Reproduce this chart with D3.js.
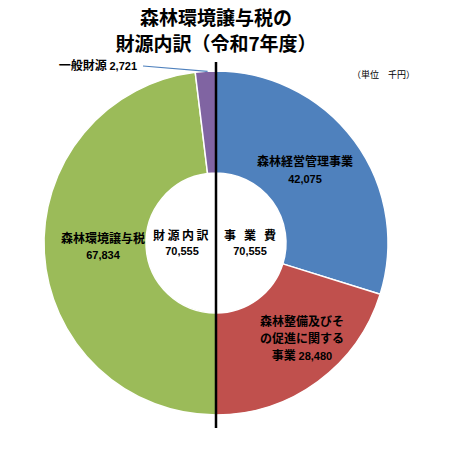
<!DOCTYPE html>
<html><head><meta charset="utf-8">
<script src="https://cdn.jsdelivr.net/npm/d3@7"></script>
<style>body{margin:0;background:#fff;} svg{display:block;font-family:"Noto Sans CJK JP","Noto Sans",sans-serif;} .num{font-family:"Liberation Sans","DejaVu Sans",sans-serif;}</style>
</head><body>
<script>
const categories = ["森林経営管理事業", "森林整備及びその促進に関する事業", "森林環境譲与税", "一般財源"];
const values = [42075, 28480, 67834, 2721];
const colors = ["#4F81BD", "#C0504D", "#9BBB59", "#8064A2"];
const totalLabels = ["財源内訳", "事業費"];
const totals = [70555, 70555];
const titleLines = ["森林環境譲与税の", "財源内訳（令和7年度）"];
const unitLabel = "（単位　千円）";

const W = 461, H = 457;
const cx = 216, cy = 243, R = 172, r = 70;
const svg = d3.select("body").append("svg").attr("width", W).attr("height", H);
const fmt = d3.format(",");

svg.selectAll("text.title").data(titleLines).join("text")
  .attr("x", 216).attr("y", (d, i) => 25 + i * 26)
  .attr("text-anchor", "middle").attr("font-size", 19).attr("font-weight", "bold")
  .text(d => d);

svg.append("text").attr("x", 352).attr("y", 78).attr("font-size", 9).text(unitLabel);

const pie = d3.pie().sort(null).value(d => d);
const arcs = pie(values);
const arc = d3.arc().innerRadius(r).outerRadius(R);
const g = svg.append("g").attr("transform", `translate(${cx},${cy})`);
g.selectAll("path").data(arcs).join("path")
  .attr("d", arc).attr("fill", (d, i) => colors[i])
  .attr("stroke", "#fff").attr("stroke-width", 1.5);

function block(x, y, lines) {
  const t = g.append("text").attr("text-anchor", "middle").attr("font-weight", "bold").attr("fill", "#000");
  lines.forEach((l, k) => t.append("tspan").attr("x", x).attr("y", y + k * 17).attr("font-size", 12).text(l));
  return t;
}
function num(x, y, v) {
  g.append("text").attr("class", "num").attr("x", x).attr("y", y).attr("text-anchor", "middle")
    .attr("font-size", 11).attr("font-weight", "bold").text(fmt(v));
}
block(89, -77, [categories[0]]);
num(89, -60, values[0]);

const redName = categories[1];
block(86, 83, [redName.slice(0, 7), redName.slice(7, 14)]);
const t3 = g.append("text").attr("x", 86).attr("y", 117).attr("text-anchor", "middle").attr("font-weight", "bold");
t3.append("tspan").attr("font-size", 12).text(redName.slice(14) + " ");
t3.append("tspan").attr("class", "num").attr("font-size", 11).text(fmt(values[1]));

block(-113, 0, [categories[2]]);
num(-113, 16, values[2]);

// center totals
g.append("text").attr("x", -34).attr("y", -3).attr("text-anchor", "middle").attr("font-size", 12).attr("font-weight", "bold").attr("letter-spacing", 2.5).text(totalLabels[0]);
num(-34, 12, totals[0]);
g.append("text").attr("x", 38).attr("y", -3).attr("text-anchor", "middle").attr("font-size", 12).attr("font-weight", "bold").attr("letter-spacing", 8).text(totalLabels[1]);
num(34, 12, totals[1]);

// purple outside label with leader line
const pa = arcs[3];
const mid = (pa.startAngle + pa.endAngle) / 2;
const px = Math.sin(mid) * R, py = -Math.cos(mid) * R;
svg.append("line").attr("x1", 143).attr("y1", 66).attr("x2", cx + px + 2).attr("y2", cy + py)
  .attr("stroke", "#4F81BD").attr("stroke-width", 1.2);
const t4 = svg.append("text").attr("x", 137).attr("y", 70).attr("text-anchor", "end").attr("font-weight", "bold");
t4.append("tspan").attr("font-size", 12).text(categories[3] + " ");
t4.append("tspan").attr("class", "num").attr("font-size", 11).text(fmt(values[3]));

// vertical divider
svg.append("line").attr("x1", 216).attr("x2", 216).attr("y1", 62).attr("y2", 428)
  .attr("stroke", "#000").attr("stroke-width", 2.5);
</script>
</body></html>
